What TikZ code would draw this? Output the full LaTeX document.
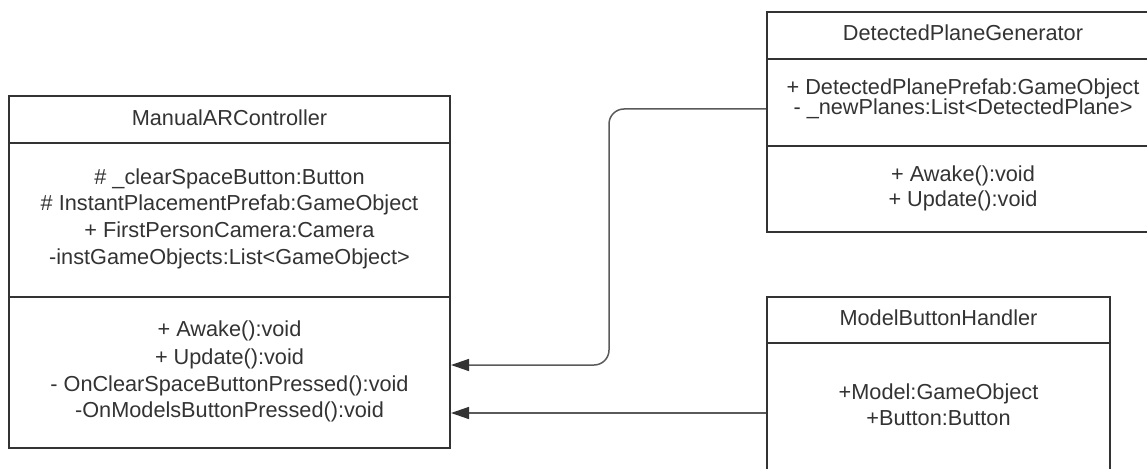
\documentclass[tikz,border=0pt]{standalone}
\usepackage{fontspec}
\setmainfont{Liberation Sans}
\usetikzlibrary{arrows.meta,calc}
\definecolor{ink}{HTML}{333333}
\definecolor{wire}{HTML}{5A5A5A}
\begin{document}
\begin{tikzpicture}[x=1pt,y=-1pt,
  box/.style={draw=ink,line width=2pt,inner sep=0pt,fill=white},
  divider/.style={draw=ink,line width=2pt},
  txt/.style={inner sep=0pt,anchor=base,text=ink,font=\fontsize{21.7}{26}\selectfont},
  conn/.style={draw=wire,line width=1.5pt,-{Triangle[length=18pt,width=12pt,fill=ink,color=ink]}}]
\clip (0,0) rectangle (1147,468);
\fill[white] (0,0) rectangle (1147,468);
% class boxes
\node[box,minimum width=441pt,minimum height=352pt] (mac) at (229.5,272) {};
\node[box,minimum width=392pt,minimum height=220pt] (dpg) at (963,122) {};
\node[box,minimum width=343pt,minimum height=263pt] (mbh) at (938.5,428.5) {};
% dividers
\draw[divider] (mac.west |- 0,143) -- (mac.east |- 0,143);
\draw[divider] (mac.west |- 0,297) -- (mac.east |- 0,297);
\draw[divider] (dpg.west |- 0,59) -- (dpg.east |- 0,59);
\draw[divider] (dpg.west |- 0,146) -- (dpg.east |- 0,146);
\draw[divider] (mbh.west |- 0,343) -- (mbh.east |- 0,343);
% ManualARController texts
\node[txt] (macT) at (229.5,125) {ManualARController};
\node[txt] (macA1) at (229.5,184) {\# \_clearSpaceButton:Button};
\node[txt] (macA2) at (229.5,210.7) {\# InstantPlacementPrefab:GameObject};
\node[txt] (macA3) at (229.5,237.5) {+ FirstPersonCamera:Camera};
\node[txt] (macA4) at (229.5,264) {-instGameObjects:List<GameObject>};
\node[txt] (macM1) at (229.5,336.7) {+ Awake():void};
\node[txt] (macM2) at (229.5,364) {+ Update():void};
\node[txt] (macM3) at (229.5,391) {- OnClearSpaceButtonPressed():void};
\node[txt] (macM4) at (229.5,417.3) {-OnModelsButtonPressed():void};
% DetectedPlaneGenerator texts
\node[txt] (dpgT) at (963,40.7) {DetectedPlaneGenerator};
\node[txt] (dpgA1) at (963,94.5) {+ DetectedPlanePrefab:GameObject};
\node[txt] (dpgA2) at (963,114.5) {- \_newPlanes:List<DetectedPlane>};
\node[txt] (dpgM1) at (963,181.7) {+ Awake():void};
\node[txt] (dpgM2) at (963,206.7) {+ Update():void};
% ModelButtonHandler texts
\node[txt] (mbhT) at (938.5,325) {ModelButtonHandler};
\node[txt] (mbhA1) at (938.5,399.3) {+Model:GameObject};
\node[txt] (mbhA2) at (938.5,425.7) {+Button:Button};
% connectors
\draw[conn,rounded corners=15pt] (dpg.west |- 0,109) -| (609,250) |- (mac.east |- 0,365);
\draw[conn] (mbh.west |- 0,413) -- (mac.east |- 0,413);
\end{tikzpicture}
\end{document}
